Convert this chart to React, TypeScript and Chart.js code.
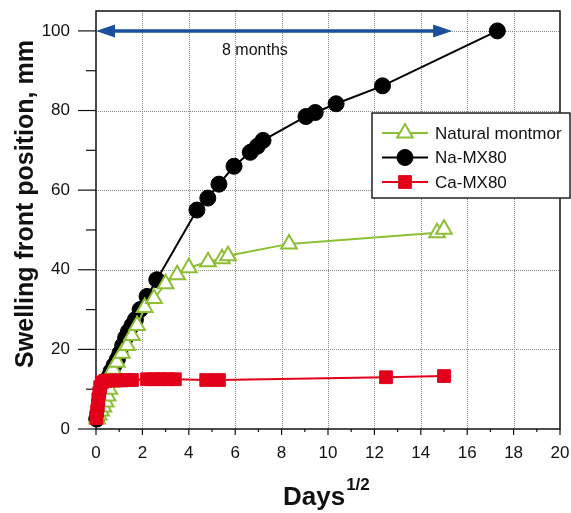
import React, { useEffect, useRef } from 'react';
import { Chart, registerables } from 'chart.js';

Chart.register(...registerables);

// ---- Data (x = days^1/2, y = swelling front position, mm) ----
const naturalX = [0.05, 0.12, 0.22, 0.32, 0.42, 0.5, 0.57, 0.63, 0.68, 0.73, 0.9, 1.12, 1.34, 1.55, 1.77, 2.1, 2.5, 3.0, 3.5, 4.0, 4.83, 5.43, 5.69, 8.32, 14.7, 15.0];
const naturalY = [2.5, 3.5, 4.5, 5.5, 6.8, 8.3, 10, 11.8, 13.5, 15, 16.75, 19, 21, 23.5, 26, 30.5, 32.75, 36.5, 38.75, 40.5, 42, 42.75, 43.5, 46.5, 49.3, 50.2];

const naX = [0.03, 0.08, 0.13, 0.2, 0.28, 0.36, 0.45, 0.55, 0.65, 0.78, 0.92, 1.03, 1.15, 1.28, 1.4, 1.55, 1.7, 1.9, 2.2, 2.62, 4.35, 4.82, 5.3, 5.95, 6.65, 6.95, 7.2, 9.05, 9.45, 10.35, 12.35, 17.3];
const naY = [2.5, 4, 5.5, 7, 8.5, 10, 11.5, 13, 14.5, 16, 17.5, 19, 21, 23, 24.5, 26, 27.5, 30, 33.3, 37.5, 55, 58, 61.5, 66, 69.5, 71, 72.5, 78.5, 79.5, 81.7, 86.2, 100];

const caX = [0.02, 0.05, 0.08, 0.1, 0.14, 0.18, 0.25, 0.4, 0.6, 0.85, 1.1, 1.35, 1.55, 2.2, 2.5, 2.8, 3.1, 3.4, 4.75, 5.3, 12.5, 15.0];
const caY = [2.75, 4.5, 6, 7.5, 9, 10.5, 11.7, 12.1, 12.2, 12.2, 12.2, 12.3, 12.3, 12.5, 12.5, 12.5, 12.5, 12.5, 12.3, 12.3, 13, 13.3];

const SERIES_LABELS = ['Natural montmor', 'Na-MX80', 'Ca-MX80'];
const X_TICKS = [0, 1, 2, 3, 4, 5, 6, 7, 8, 9, 10, 11, 12, 13, 14, 15, 16, 17, 18, 19, 20];
const Y_TICKS = [0, 10, 20, 30, 40, 50, 60, 70, 80, 90, 100];
const X_MIN = 0, X_MAX = 20, Y_MIN = 0, Y_MAX = 105;

const ARROW_FROM = 0;
const ARROW_TO = 15.35;
const ARROW_Y = 100;
const ARROW_LABEL = '8 months';
const ARROW_LABEL_X = 6.85;
const ARROW_LABEL_Y = 95;

const X_TITLE = 'Days';
const X_TITLE_SUP = '1/2';
const Y_TITLE = 'Swelling front position, mm';

// ---- Styles ----
const GREEN = '#8cbf34';
const BLACK = '#000000';
const RED = '#e2001a';
const BLUE = '#1a4f9e';
const GRID = '#8a8a8a';
const FONT = '"Liberation Sans", Arial, sans-serif';

const toPts = (xs: number[], ys: number[]) => xs.map((x, i) => ({ x, y: ys[i] }));

function drawMarker(ctx: CanvasRenderingContext2D, style: string, x: number, y: number, r: number, fill: string, stroke: string, lw: number) {
  ctx.save();
  ctx.beginPath();
  if (style === 'triangle') {
    ctx.moveTo(x, y - r);
    ctx.lineTo(x + r * Math.sin(Math.PI * 2 / 3), y - r * Math.cos(Math.PI * 2 / 3));
    ctx.lineTo(x - r * Math.sin(Math.PI * 2 / 3), y - r * Math.cos(Math.PI * 2 / 3));
    ctx.closePath();
  } else if (style === 'rect') {
    const s = Math.SQRT1_2 * r;
    ctx.rect(x - s, y - s, 2 * s, 2 * s);
  } else {
    ctx.arc(x, y, r, 0, Math.PI * 2);
  }
  ctx.fillStyle = fill;
  ctx.fill();
  ctx.lineWidth = lw;
  ctx.strokeStyle = stroke;
  ctx.stroke();
  ctx.restore();
}

const framePlugin = {
  id: 'frame',
  beforeDatasetsDraw(chart: any) {
    const { ctx, chartArea: ca, scales } = chart;
    const xs = scales.x, ys = scales.y;
    ctx.save();
    // dotted grid
    ctx.strokeStyle = GRID;
    ctx.lineWidth = 1;
    ctx.setLineDash([1, 1]);
    X_TICKS.forEach(v => {
      if (v % 2 === 0 && v > X_MIN && v < X_MAX) {
        const px = Math.round(xs.getPixelForValue(v)) + 0.5;
        ctx.beginPath(); ctx.moveTo(px, ca.top); ctx.lineTo(px, ca.bottom); ctx.stroke();
      }
    });
    Y_TICKS.forEach(v => {
      if (v % 20 === 0 && v > Y_MIN) {
        const py = Math.round(ys.getPixelForValue(v)) + 0.5;
        ctx.beginPath(); ctx.moveTo(ca.left, py); ctx.lineTo(ca.right, py); ctx.stroke();
      }
    });
    ctx.setLineDash([]);
    // frame
    ctx.strokeStyle = '#111';
    ctx.lineWidth = 1.5;
    ctx.strokeRect(ca.left, ca.top, ca.right - ca.left, ca.bottom - ca.top);
    // tick marks
    ctx.lineWidth = 1.2;
    X_TICKS.forEach(v => {
      const px = xs.getPixelForValue(v);
      const len = v % 2 === 0 ? 6 : 3;
      ctx.beginPath(); ctx.moveTo(px, ca.bottom); ctx.lineTo(px, ca.bottom + len); ctx.stroke();
    });
    Y_TICKS.forEach(v => {
      const py = ys.getPixelForValue(v);
      const len = v % 20 === 0 ? 18 : 10;
      ctx.beginPath(); ctx.moveTo(ca.left, py); ctx.lineTo(ca.left - len, py); ctx.stroke();
    });
    // arrow
    const ay = ys.getPixelForValue(ARROW_Y);
    const ax1 = xs.getPixelForValue(ARROW_FROM);
    const ax2 = xs.getPixelForValue(ARROW_TO);
    const hl = 19, hw = 6.5;
    ctx.strokeStyle = BLUE;
    ctx.fillStyle = BLUE;
    ctx.lineWidth = 3.5;
    ctx.beginPath(); ctx.moveTo(ax1 + hl - 2, ay); ctx.lineTo(ax2 - hl + 2, ay); ctx.stroke();
    ctx.beginPath(); ctx.moveTo(ax1, ay); ctx.lineTo(ax1 + hl, ay - hw); ctx.lineTo(ax1 + hl, ay + hw); ctx.closePath(); ctx.fill();
    ctx.beginPath(); ctx.moveTo(ax2, ay); ctx.lineTo(ax2 - hl, ay - hw); ctx.lineTo(ax2 - hl, ay + hw); ctx.closePath(); ctx.fill();
    ctx.fillStyle = '#111';
    ctx.font = `16px ${FONT}`;
    ctx.textAlign = 'center';
    ctx.textBaseline = 'middle';
    ctx.fillText(ARROW_LABEL, xs.getPixelForValue(ARROW_LABEL_X), ys.getPixelForValue(ARROW_LABEL_Y));
    ctx.restore();
  },
  afterDraw(chart: any) {
    const { ctx, chartArea: ca } = chart;
    ctx.save();
    // legend
    const bx = 372, by = 113, bw = 198, bh = 85;
    ctx.fillStyle = '#fff';
    ctx.fillRect(bx, by, bw, bh);
    ctx.strokeStyle = '#222';
    ctx.lineWidth = 1.5;
    ctx.strokeRect(bx, by, bw, bh);
    const items = [
      { label: SERIES_LABELS[0], color: GREEN, style: 'triangle', fill: '#fff', r: 9, lw: 2 },
      { label: SERIES_LABELS[1], color: BLACK, style: 'circle', fill: BLACK, r: 8, lw: 1 },
      { label: SERIES_LABELS[2], color: RED, style: 'rect', fill: RED, r: 9, lw: 1 },
    ];
    ctx.font = `17px ${FONT}`;
    ctx.textAlign = 'left';
    ctx.textBaseline = 'middle';
    items.forEach((it, i) => {
      const y = by + 20 + i * 24.5;
      ctx.strokeStyle = it.color;
      ctx.lineWidth = 2;
      ctx.beginPath(); ctx.moveTo(382, y); ctx.lineTo(428, y); ctx.stroke();
      drawMarker(ctx, it.style, 405, y, it.r, it.fill, it.color, it.lw);
      ctx.fillStyle = '#111';
      ctx.fillText(it.label, 435, y + 1);
    });
    // axis titles
    ctx.fillStyle = '#111';
    ctx.textBaseline = 'alphabetic';
    ctx.textAlign = 'left';
    ctx.font = `bold 26px ${FONT}`;
    const dw = ctx.measureText(X_TITLE).width;
    ctx.fillText(X_TITLE, 283, 505);
    ctx.font = `bold 17px ${FONT}`;
    ctx.fillText(X_TITLE_SUP, 283 + dw + 1, 490);
    ctx.translate(33, 204);
    ctx.rotate(-Math.PI / 2);
    ctx.font = `bold 25px ${FONT}`;
    ctx.textAlign = 'center';
    ctx.fillText(Y_TITLE, 0, 0);
    ctx.restore();
  },
};

export default function App() {
  const ref = useRef<HTMLCanvasElement | null>(null);
  useEffect(() => {
    if (!ref.current) return;
    const common = { showLine: true, tension: 0, clip: false as any, borderWidth: 2 };
    const chart = new Chart(ref.current, {
      type: 'scatter',
      data: {
        datasets: [
          {
            ...common,
            label: SERIES_LABELS[2],
            data: toPts(caX, caY),
            borderColor: RED,
            backgroundColor: RED,
            pointStyle: 'rect',
            pointRadius: 9,
            pointBorderWidth: 1,
            pointBorderColor: RED,
            pointBackgroundColor: RED,
          },
          {
            ...common,
            label: SERIES_LABELS[0],
            data: toPts(naturalX, naturalY),
            borderColor: GREEN,
            backgroundColor: '#fff',
            pointStyle: 'triangle',
            pointRadius: 9,
            pointBorderWidth: 2,
            pointBorderColor: GREEN,
            pointBackgroundColor: '#fff',
          },
          {
            ...common,
            label: SERIES_LABELS[1],
            data: toPts(naX, naY),
            borderColor: BLACK,
            backgroundColor: BLACK,
            pointStyle: 'circle',
            pointRadius: 8,
            pointBorderWidth: 1,
            pointBorderColor: BLACK,
            pointBackgroundColor: BLACK,
          },
        ],
      },
      options: {
        animation: false,
        responsive: false,
        events: [],
        layout: { padding: { left: 0, right: 11, top: 9, bottom: 0 } },
        plugins: { legend: { display: false }, tooltip: { enabled: false }, title: { display: false } },
        scales: {
          x: {
            type: 'linear',
            min: X_MIN,
            max: X_MAX,
            afterBuildTicks: (s: any) => { s.ticks = X_TICKS.map(v => ({ value: v })); },
            afterFit: (s: any) => { s.height = 84; s.paddingLeft = 0; s.paddingRight = 0; s.paddingTop = 0; s.paddingBottom = 0; },
            grid: { display: false, drawTicks: false },
            border: { display: false },
            ticks: {
              autoSkip: false,
              maxRotation: 0,
              padding: 14,
              color: '#111',
              font: { family: FONT, size: 17 },
              callback: (v: any) => (Number(v) % 2 === 0 ? String(v) : ''),
            },
          },
          y: {
            type: 'linear',
            min: Y_MIN,
            max: Y_MAX,
            afterBuildTicks: (s: any) => { s.ticks = Y_TICKS.map(v => ({ value: v })); },
            afterFit: (s: any) => { s.width = 96; s.paddingLeft = 0; s.paddingRight = 0; s.paddingTop = 0; s.paddingBottom = 0; },
            grid: { display: false, drawTicks: false },
            border: { display: false },
            ticks: {
              autoSkip: false,
              padding: 26,
              color: '#111',
              font: { family: FONT, size: 17 },
              callback: (v: any) => (Number(v) % 20 === 0 ? String(v) : ''),
            },
          },
        },
      },
      plugins: [framePlugin],
    } as any);
    return () => chart.destroy();
  }, []);
  return (
    <div style={{ position: 'fixed', left: 0, top: 0, width: 571, height: 513, background: '#fff' }}>
      <canvas ref={ref} width={571} height={513} style={{ width: 571, height: 513, display: 'block' }} />
    </div>
  );
}
